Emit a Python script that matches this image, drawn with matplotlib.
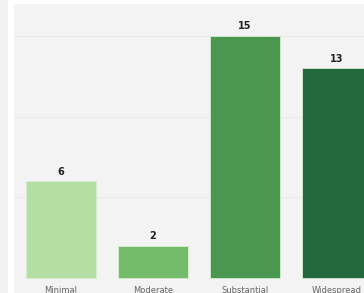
import matplotlib
matplotlib.use("Agg")
import matplotlib.pyplot as plt
from matplotlib.patches import Rectangle

categories = ["Minimal", "Moderate", "Substantial", "Widespread"]
counts = [6, 2, 15, 13]
colors = ["#b3dfa3", "#74bc69", "#4a9850", "#23693d"]

W, H = 364, 293
fig = plt.figure(figsize=(W / 100, H / 100), dpi=100)
fig.patch.set_facecolor("white")

# gray strip on the far left
fig.patches.append(Rectangle((0, 0), 8 / W, 1, transform=fig.transFigure,
                             facecolor="#f2f2f2", edgecolor="none", zorder=0))

ax = fig.add_axes([14 / W, 0, (W - 14) / W, 289 / H])
ax.set_facecolor("#f3f3f3")

unit = 16.13
ax.set_ylim(-15 / unit, (278 - 4) / unit)
ax.set_xlim(-(61 - 14) / 92, (W - 61) / 92)

for y in [5, 10, 15]:
    ax.axhline(y, color="#eaeaea", linewidth=0.8, zorder=1)

x = list(range(len(categories)))
ax.bar(x, counts, width=0.76, color=colors, edgecolor="#d8ecd2", linewidth=0.6, zorder=2)

for xi, v in zip(x, counts):
    ax.text(xi, v + 0.6, str(v), ha="center", va="center", fontsize=7,
            fontweight="bold", color="#222222")

for xi, c in zip(x, categories):
    ax.text(xi, -0.75, c, ha="center", va="center", fontsize=6, color="#666666")

ax.set_xticks([])
ax.set_yticks([])
for s in ax.spines.values():
    s.set_visible(False)

fig.savefig("out.png", dpi=100, facecolor=fig.get_facecolor())
